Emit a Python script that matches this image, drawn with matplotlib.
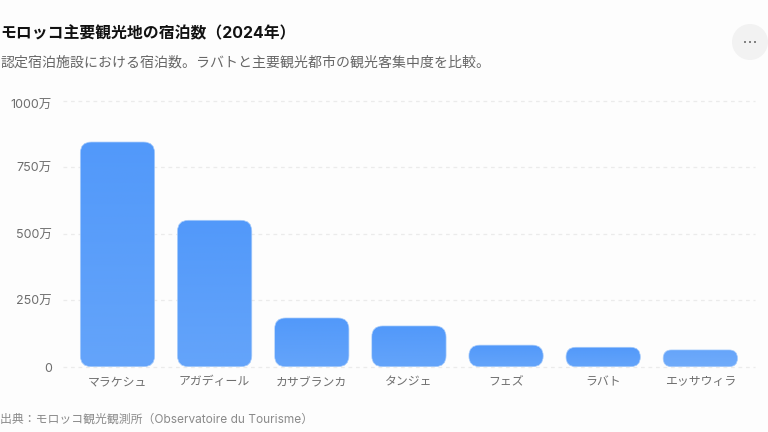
import numpy as np
import matplotlib.pyplot as plt
from matplotlib.colors import LinearSegmentedColormap
from matplotlib.patches import Circle, FancyBboxPatch
from matplotlib.transforms import ScaledTranslation

plt.rcParams['font.family'] = ['Inter', 'Noto Sans CJK JP', 'DejaVu Sans']

# Data (unit: 万)
cities = ['マラケシュ', 'アガディール', 'カサブランカ', 'タンジェ', 'フェズ', 'ラバト', 'エッサウィラ']
stays = [844, 550, 183, 153, 81, 73, 63]
y_ticks = [0, 250, 500, 750, 1000]
y_labels = ['0', '250万', '500万', '750万', '1000万']

BG = '#fdfdfd'
W, H = 768, 432

fig = plt.figure(figsize=(W / 100, H / 100), dpi=100, facecolor=BG)

# axes placed in pixels: x 63-755, y 100.5-366.7
ax = fig.add_axes([63 / W, 1 - 366.7 / H, 692 / W, (366.7 - 100.5) / H], facecolor='none')
ax.set_xlim(-0.561, 6.563)
ax.set_ylim(0, 1000)
for s in ax.spines.values():
    s.set_visible(False)

ax.set_yticks(y_ticks, y_labels, fontsize=9.0, color='#6e6e6e')
ax.set_xticks(range(len(cities)), cities, fontsize=8.55, color='#6e6e6e')
ax.tick_params(axis='both', length=0)
ax.tick_params(axis='y', pad=8)
ax.tick_params(axis='x', pad=13.5)
for lab in ax.get_xticklabels():
    lab.set_va('baseline')
# labels sit a little under their gridlines, the top one clearly so
for lab, dy in zip(ax.get_yticklabels(), [0.7, 0.7, 0.7, 0.7, 3.5]):
    lab.set_transform(lab.get_transform() + ScaledTranslation(0, -dy / 100, fig.dpi_scale_trans))
for y in y_ticks:
    ax.axhline(y, color='#ebebeb', lw=0.9, dashes=(3, 3), zorder=1, clip_on=False)

# rounded bars with a vertical gradient, radius capped so short bars become pills
bar_w = 0.765
px_x = 97.13   # pixels per category
px_y = 0.2662  # pixels per 万
gradient = np.linspace(0, 1, 256).reshape(-1, 1)
cmap = LinearSegmentedColormap.from_list('bar', ['#5299fa', '#64a4fa'])
cmap_last = LinearSegmentedColormap.from_list('bar2', ['#66a5fa', '#70abfa'])
for i, v in enumerate(stays):
    x0 = i - bar_w / 2
    radius = min(11, v * px_y / 2)
    im = ax.imshow(gradient, extent=[x0, x0 + bar_w, 0, v], origin='upper', aspect='auto',
                   cmap=cmap_last if i == len(stays) - 1 else cmap, zorder=3)
    box = FancyBboxPatch((x0, 0), bar_w, v, boxstyle=f'round,pad=0,rounding_size={radius / px_x}',
                         mutation_aspect=px_x / px_y, transform=ax.transData,
                         facecolor='none', edgecolor='#a6cbfb', lw=0.5, zorder=4)
    ax.add_patch(box)
    im.set_clip_path(box)
ax.set_xlim(-0.561, 6.563)
ax.set_ylim(0, 1000)

# overlay in pixel coordinates for headings and the menu button
ov = fig.add_axes([0, 0, 1, 1], facecolor='none')
ov.set_xlim(0, W)
ov.set_ylim(H, 0)
ov.axis('off')
ov.text(0.5, 33.5, 'モロッコ主要観光地の宿泊数（2024年）', fontsize=11.4, fontweight='bold',
        color='#111111', va='center', ha='left')
ov.text(0.5, 63, '認定宿泊施設における宿泊数。ラバトと主要観光都市の観光客集中度を比較。',
        fontsize=10.06, color='#666666', va='center', ha='left')
ov.text(0.5, 420, '出典：モロッコ観光観測所（Observatoire du Tourisme）', fontsize=8.55,
        color='#8a8a8a', va='center', ha='left')
ov.add_patch(Circle((750, 42), 18, facecolor='#f2f2f2', edgecolor='none'))
for dx in (-5, 0, 5):
    ov.add_patch(Circle((750 + dx, 42), 1.0, facecolor='#666666', edgecolor='none'))

fig.savefig('out.png', dpi=100, facecolor=BG)
